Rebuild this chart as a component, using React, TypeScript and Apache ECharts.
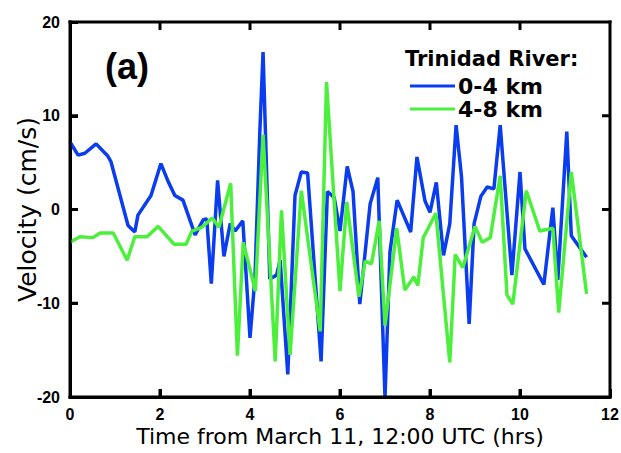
import React, { useEffect, useRef } from "react";
import * as echarts from "echarts";

const blueTimes = [0.0, 0.18, 0.33, 0.58, 0.84, 0.91, 1.29, 1.44, 1.51, 1.8, 2.02, 2.18, 2.33, 2.51, 2.78, 2.96, 3.04, 3.14, 3.28, 3.42, 3.56, 3.67, 3.84, 4.0, 4.11, 4.22, 4.29, 4.44, 4.59, 4.67, 4.84, 5.0, 5.14, 5.28, 5.58, 5.72, 5.87, 6.0, 6.16, 6.29, 6.44, 6.67, 6.84, 7.0, 7.11, 7.27, 7.57, 7.71, 7.89, 8.0, 8.14, 8.3, 8.44, 8.58, 8.7, 8.87, 8.98, 9.13, 9.27, 9.42, 9.56, 9.82, 10.0, 10.11, 10.53, 10.73, 10.84, 11.04, 11.14, 11.48];
const blueValues = [7.2, 5.8, 6.0, 7.0, 5.7, 5.1, -1.7, -2.4, -0.6, 1.5, 4.9, 3.0, 1.5, 1.0, -2.7, -1.1, -1.0, -7.9, 3.1, -5.0, -1.5, -2.3, -1.2, -13.7, -7.3, 8.5, 16.8, -7.4, -7.0, -5.4, -17.6, 1.5, 4.0, 3.9, -16.2, 1.9, 1.3, -2.3, 4.6, 1.9, -10.1, 0.6, 3.4, -20.1, -4.5, 1.0, -2.4, 5.6, 0.9, -0.3, 2.9, -4.9, -1.5, 9.0, 3.5, -12.2, -1.5, 1.4, 2.4, 2.2, 9.0, -7.0, 4.0, -4.2, -8.0, 0.2, -7.5, 8.3, -2.8, -5.1];

const greenTimes = [0.0, 0.22, 0.51, 0.67, 0.96, 1.27, 1.44, 1.71, 1.96, 2.31, 2.58, 2.71, 2.93, 3.16, 3.31, 3.57, 3.72, 3.85, 4.12, 4.29, 4.56, 4.7, 4.89, 5.14, 5.56, 5.7, 5.85, 6.0, 6.15, 6.42, 6.56, 6.7, 6.87, 7.0, 7.26, 7.44, 7.64, 7.73, 7.85, 7.96, 8.13, 8.44, 8.56, 8.73, 9.0, 9.16, 9.34, 9.56, 9.71, 9.84, 10.14, 10.44, 10.73, 10.86, 11.14, 11.48];
const greenValues = [-3.5, -2.9, -3.0, -2.5, -2.5, -5.4, -2.9, -2.9, -1.8, -3.7, -3.7, -2.3, -1.9, -0.9, -1.9, 2.8, -15.6, -3.5, -8.7, 8.0, -16.2, -0.1, -15.5, 2.0, -13.0, 13.6, 2.4, -8.7, 0.8, -9.3, -5.5, -5.8, -1.2, -12.4, -2.0, -8.6, -7.2, -8.1, -3.0, -2.0, -0.4, -16.3, -4.8, -6.2, -1.8, -3.5, -3.0, 3.6, -9.1, -10.1, 2.0, -2.3, -2.0, -11.0, 4.0, -9.0];

const xTicks = [2, 4, 6, 8, 10];
const yTicks = [-10, 0, 10];

const seriesNames = ["0-4 km", "4-8 km"];
const legendTitle = "Trinidad River:";
const panelLabel = "(a)";
const xTitle = "Time from March 11, 12:00 UTC (hrs)";
const yTitle = "Velocity (cm/s)";

const ARIAL = "Liberation Sans";
const WIDE = "DejaVu Sans";

const GL = 70, GR = 11, GT = 22, GB = 56;
const W = 621, H = 453;
const LW = 3;
const TL = 8;

export default function App() {
  const ref = useRef<HTMLDivElement>(null);
  useEffect(() => {
    if (!ref.current) return;
    document.body.style.margin = "0";
    const chart = echarts.init(ref.current, null, { renderer: "svg" });
    chart.setOption({
      animation: false,
      grid: { left: GL, right: GR, top: GT, bottom: GB, outerBoundsMode: "none" },
      legend: {
        orient: "vertical",
        left: 410,
        top: 75,
        padding: 0,
        itemWidth: 45,
        itemHeight: 3,
        itemGap: 1,
        icon: "rect",
        data: seriesNames,
        textStyle: { fontFamily: WIDE, fontSize: 22, fontWeight: "bold", color: "#000", padding: [0, 0, 0, -2] },
      },
      xAxis: {
        type: "value",
        min: 0,
        max: 12,
        interval: 2,
        name: xTitle,
        nameLocation: "middle",
        nameGap: 28,
        nameMoveOverlap: false,
        nameTextStyle: { fontFamily: WIDE, fontSize: 22, color: "#000" },
        axisLine: { show: true, onZero: false, lineStyle: { color: "#000", width: LW } },
        axisTick: { show: true, inside: true, length: TL, lineStyle: { color: "#000", width: LW } },
        axisLabel: { fontFamily: ARIAL, fontSize: 16, fontWeight: "bold", color: "#000", margin: 9 },
        splitLine: { show: false },
      },
      yAxis: {
        type: "value",
        min: -20,
        max: 20,
        interval: 10,
        name: yTitle,
        nameLocation: "middle",
        nameGap: 30,
        nameMoveOverlap: false,
        nameTextStyle: { fontFamily: WIDE, fontSize: 25, color: "#000" },
        axisLine: { show: true, onZero: false, lineStyle: { color: "#000", width: LW } },
        axisTick: { show: true, inside: true, length: TL, lineStyle: { color: "#000", width: LW } },
        axisLabel: { fontFamily: ARIAL, fontSize: 16, fontWeight: "bold", color: "#000", margin: 10 },
        splitLine: { show: false },
      },
      series: [
        {
          name: seriesNames[0],
          type: "line",
          data: blueTimes.map((t, i) => [t, blueValues[i]]),
          showSymbol: false,
          symbol: "none",
          lineStyle: { color: "#0a3cf0", width: 3.5 },
          itemStyle: { color: "#0a3cf0" },
        },
        {
          name: seriesNames[1],
          type: "line",
          data: greenTimes.map((t, i) => [t, greenValues[i]]),
          showSymbol: false,
          symbol: "none",
          lineStyle: { color: "#4cf03c", width: 3.5 },
          itemStyle: { color: "#4cf03c" },
        },
      ],
    });

    // Frame and ticks drawn as filled rectangles, placed from the axes' own scales.
    const x0 = chart.convertToPixel({ xAxisIndex: 0 }, 0) as number;
    const x1 = chart.convertToPixel({ xAxisIndex: 0 }, 12) as number;
    const yTop = chart.convertToPixel({ yAxisIndex: 0 }, 20) as number;
    const yBot = chart.convertToPixel({ yAxisIndex: 0 }, -20) as number;
    const h = LW / 2;
    const fill = { fill: "#000" };
    const els: any[] = [
      { type: "rect", z: 10, shape: { x: x0 - h, y: yTop - h, width: x1 - x0 + LW, height: LW }, style: fill },
      { type: "rect", z: 10, shape: { x: x0 - h, y: yBot - h, width: x1 - x0 + LW, height: LW }, style: fill },
      { type: "rect", z: 10, shape: { x: x0 - h, y: yTop - h, width: LW, height: yBot - yTop + LW }, style: fill },
      { type: "rect", z: 10, shape: { x: x1 - h, y: yTop - h, width: LW, height: yBot - yTop + LW }, style: fill },
    ];
    xTicks.forEach((v) => {
      const px = chart.convertToPixel({ xAxisIndex: 0 }, v) as number;
      els.push({ type: "rect", z: 10, shape: { x: px - h, y: yTop, width: LW, height: TL }, style: fill });
      els.push({ type: "rect", z: 10, shape: { x: px - h, y: yBot - TL, width: LW, height: TL }, style: fill });
    });
    yTicks.forEach((v) => {
      const py = chart.convertToPixel({ yAxisIndex: 0 }, v) as number;
      els.push({ type: "rect", z: 10, shape: { x: x0, y: py - h, width: TL, height: LW }, style: fill });
      els.push({ type: "rect", z: 10, shape: { x: x1 - TL, y: py - h, width: TL, height: LW }, style: fill });
    });
    chart.setOption({
      graphic: [
        ...els,
        { type: "text", left: 105, top: 48, style: { text: panelLabel, fontFamily: ARIAL, fontSize: 36, fontWeight: "bold", fill: "#000" } },
        { type: "text", left: 405, top: 48, style: { text: legendTitle, fontFamily: WIDE, fontSize: 21, fontWeight: "bold", fill: "#000" } },
      ],
    });
    return () => chart.dispose();
  }, []);
  return <div ref={ref} style={{ width: W, height: H }} />;
}
